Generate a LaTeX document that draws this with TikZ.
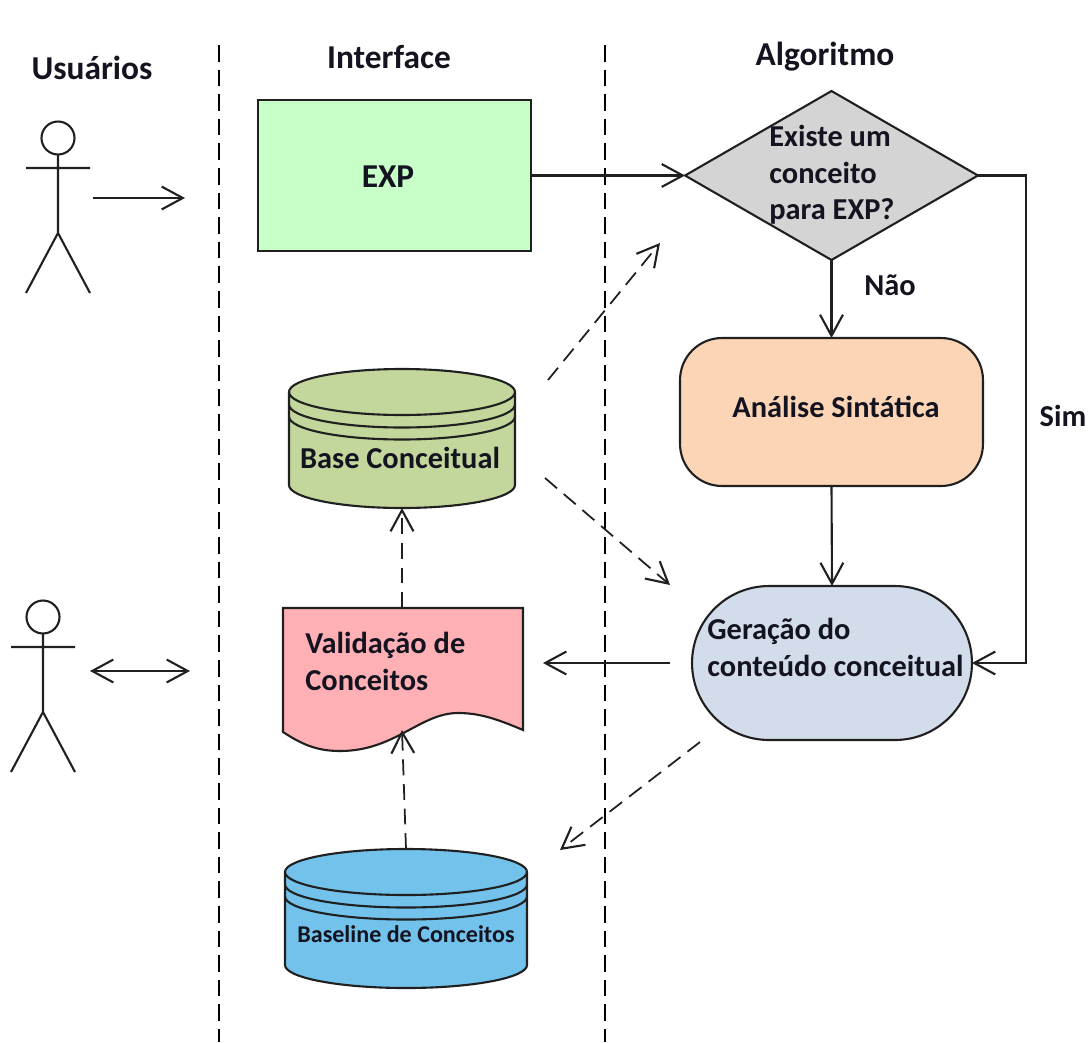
\documentclass[tikz,border=0pt]{standalone}
\usepackage{fontspec}
\setmainfont{Carlito}
\usetikzlibrary{arrows.meta,shapes.geometric}
\definecolor{expcor}{HTML}{C8FFC8}
\definecolor{decisaocor}{HTML}{D4D4D4}
\definecolor{analisecor}{HTML}{FBD5B5}
\definecolor{geracaocor}{HTML}{D3DCEB}
\definecolor{basecor}{HTML}{C3D69B}
\definecolor{validacaocor}{HTML}{FFB0B5}
\definecolor{baselinecor}{HTML}{72C2EC}
\definecolor{textocor}{HTML}{141420}
\definecolor{linhacor}{HTML}{202020}
\tikzset{
    >={Straight Barb[length=12pt,width=13pt,line width=1.2pt]},
    linha/.style={draw=linhacor, line width=1.2pt},
    seta/.style={linha, ->},
    tracejada/.style={linha, ->, line width=1pt, dash pattern=on 9pt off 5pt},
    raia/.style={draw=black, line width=1.2pt, dash pattern=on 9.5pt off 4.5pt},
    rotulo/.style={text=textocor, font=\fontsize{17.3}{21}\selectfont\bfseries, inner sep=0pt, align=left},
    titulo/.style={rotulo, font=\fontsize{19}{23}\selectfont\bfseries},
    caixa/.style={linha, inner sep=0pt, outer sep=0pt},
    ancora/.style={inner sep=0pt, outer sep=0pt},
}
\newcommand{\banco}[5]{%
    \begin{scope}[shift={(#2,#3)}]
        \draw[linha, fill=#5] (-#4,-46.5) -- (-#4,46.5) arc[start angle=180, end angle=360, x radius=#4, y radius=-23]
            -- (#4,-46.5) arc[start angle=0, end angle=180, x radius=#4, y radius=-23] -- cycle;
        \draw[linha] (-#4,-46.5) arc[start angle=180, end angle=360, x radius=#4, y radius=-23];
        \draw[linha] (-#4,-34) arc[start angle=180, end angle=360, x radius=#4, y radius=-23];
        \draw[linha] (-#4,-22) arc[start angle=180, end angle=360, x radius=#4, y radius=-23];
    \end{scope}
    \node[ancora, minimum width=#4*0.04cm, minimum height=2.78cm] (#1) at (#2,#3) {};
}
\newcommand{\boneco}[2]{%
    \begin{scope}[shift={(#1,#2)}]
        \draw[linha] (0,0) circle[radius=0.33cm];
        \draw[linha] (0,17) -- (0,95) (-32,30) -- (32,30) (-32,155) -- (0,95) -- (32,155);
    \end{scope}
}
\begin{document}
\begin{tikzpicture}[x=0.02cm, y=-0.02cm]
    \useasboundingbox (0,0) rectangle (1092,1042);
    \coordinate (raia1a) at (219,45);
    \coordinate (raia1b) at (219,1042);
    \coordinate (raia2a) at (605,45);
    \coordinate (raia2b) at (605,1042);
    \draw[raia] (raia1a) -- (raia1b);
    \draw[raia] (raia2a) -- (raia2b);
    \node[titulo] (usuarios) at (92,68) {Usuários};
    \node[titulo] (interface) at (389,57) {Interface};
    \node[titulo] (algoritmo) at (825,57) {Algoritmo};
    \boneco{58}{138}
    \boneco{43}{617}
    \coordinate (user1a) at (93,198);
    \coordinate (user1b) at (185,198);
    \coordinate (user2a) at (90,671);
    \coordinate (user2b) at (190,671);
    \draw[seta] (user1a) -- (user1b);
    \draw[seta, <->] (user2a) -- (user2b);
    \node[caixa, fill=expcor, minimum width=5.46cm, minimum height=3.02cm] (exp) at (394.5,175.5) {};
    \node[titulo] (exptexto) at (388,177) {EXP};
    \node[caixa, diamond, fill=decisaocor, minimum width=5.86cm, minimum height=3.38cm] (decisao) at (831.5,175.5) {};
    \node[rotulo, anchor=west] (decisaotexto) at (769,175) {Existe um\\[-0.2pt]conceito\\[-0.2pt]para EXP?};
    \node[rotulo] (nao) at (890,285) {Não};
    \node[caixa, rounded corners=0.84cm, fill=analisecor, minimum width=6.06cm, minimum height=2.96cm] (analise) at (831.5,412) {};
    \node[rotulo] (analisetexto) at (836,407) {Análise Sintática};
    \node[caixa, rounded corners=1.54cm, fill=geracaocor, minimum width=5.6cm, minimum height=3.08cm] (geracao) at (832,663) {};
    \node[rotulo, anchor=west] (geracaotexto) at (707,647.5) {Geração do\\conteúdo conceitual};
    \banco{base}{402}{438.5}{113}{basecor}
    \node[rotulo] (basetexto) at (400,458) {Base Conceitual};
    \draw[linha, fill=validacaocor] (283,608) -- (523,608) -- (523,730)
        .. controls (495,718) and (478,713) .. (458,713)
        .. controls (420,713) and (395,751) .. (340,751)
        .. controls (315,751) and (300,743) .. (283,732) -- cycle;
    \node[ancora, minimum width=4.8cm, minimum height=2.44cm] (validacao) at (402,669) {};
    \node[rotulo, anchor=west] (validacaotexto) at (305,661) {Validação de\\Conceitos};
    \banco{baseline}{406}{918.5}{121}{baselinecor}
    \node[rotulo, font=\fontsize{13.7}{16}\selectfont\bfseries] (baselinetexto) at (406,934) {Baseline de Conceitos};
    \node[rotulo] (sim) at (1063,416) {Sim};
    \coordinate (simcanto) at (1026,416);
    \coordinate (geracaosai) at (670,663);
    \coordinate (validacaoentra) at (543,663);
    \coordinate (basesai1) at (548,380);
    \coordinate (decisaoentra) at (660,243);
    \coordinate (basesai2) at (545,478);
    \coordinate (geracaoentra) at (670,585);
    \coordinate (geracaosai2) at (700,742);
    \coordinate (baselineentra) at (560,850);
    \draw[seta] (exp.east |- decisao.west) -- (decisao.west);
    \draw[seta] (decisao.south) -- (analise.north);
    \draw[seta] (analise.south) -- (geracao.north);
    \draw[seta] (decisao.east) -| (simcanto) |- (geracao.east);
    \draw[seta] (geracaosai) -- (validacaoentra);
    \draw[tracejada] (validacao.north) -- (base.south);
    \draw[tracejada] (baseline.north) -- (validacao.south);
    \draw[tracejada] (basesai1) -- (decisaoentra);
    \draw[tracejada] (basesai2) -- (geracaoentra);
    \draw[tracejada] (geracaosai2) -- (baselineentra);
\end{tikzpicture}
\end{document}
